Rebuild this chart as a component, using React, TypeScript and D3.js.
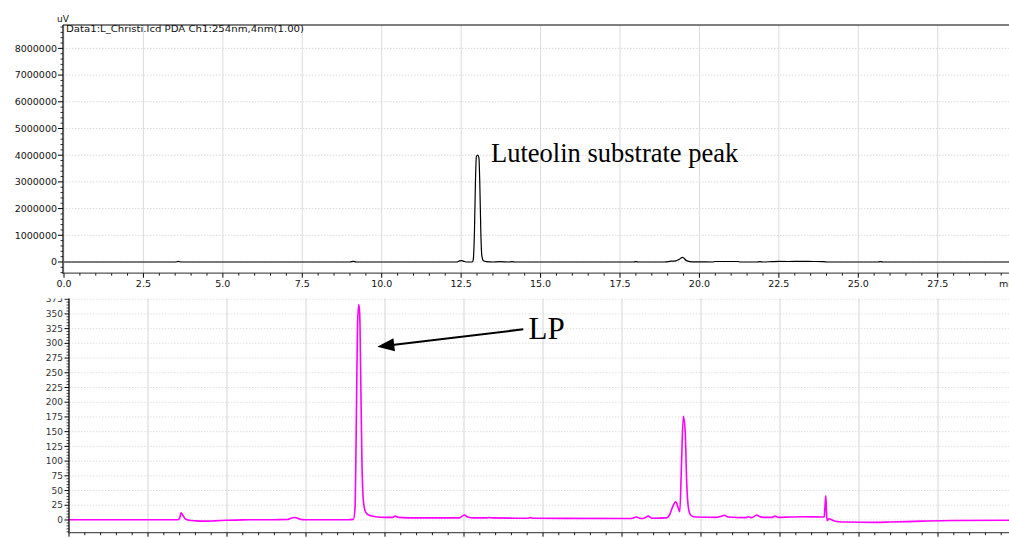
import React from "react";
import * as d3 from "d3";

const W = 1009;
const H = 538;

// Upper trace: luteolin substrate, PDA Ch1 254 nm, signal in uV  [time (min), signal]
const substrateTrace: [number, number][] = [
  [0, 0], [3.5, 0], [3.6, 20000], [3.7, 0], [9.0, 0], [9.1, 25000], [9.2, 0],
  [12.35, 0], [12.45, 40000], [12.52, 50000], [12.6, 20000], [12.7, 0], [12.85, 0],
  [12.88, 80000], [12.92, 1200000], [12.95, 3000000], [12.98, 3950000], [13.02, 4000000],
  [13.06, 3900000], [13.09, 2800000], [13.12, 1100000], [13.15, 250000], [13.2, 50000],
  [13.3, 15000], [13.5, 0], [13.7, 10000], [14.0, 0], [14.1, 10000], [14.2, 0],
  [17.9, 0], [18.0, 15000], [18.1, 0], [18.9, 0], [19.1, 30000], [19.25, 45000],
  [19.35, 90000], [19.47, 170000], [19.58, 60000], [19.7, 15000], [19.85, 5000],
  [20.4, 0], [20.5, 18000], [21.2, 18000], [21.3, 0], [21.8, 0], [21.9, 12000], [22.0, 0],
  [22.3, 15000], [22.5, 20000], [22.8, 18000], [23.2, 22000], [23.6, 18000], [23.9, 15000],
  [24.05, 0], [25.6, 0], [25.7, 10000], [25.8, 0], [29.75, 0],
];

// Lower trace: reaction mixture with product peak LP  [time (min), signal]
const productTrace: [number, number][] = [
  [0, 0.3], [3.45, 0.3], [3.5, 3], [3.55, 12], [3.6, 8], [3.68, 2], [3.8, -0.5],
  [4.0, -1.5], [4.3, -2], [4.6, -1.5], [5.0, -0.5], [5.5, 0.2], [6.5, 0.5], [6.9, 0.8],
  [7.05, 3.5], [7.15, 4.2], [7.3, 1.5], [7.5, 0.5], [8.8, 0.5], [9.0, 1], [9.05, 20],
  [9.1, 200], [9.13, 330], [9.17, 366], [9.2, 350], [9.23, 250], [9.27, 100], [9.32, 30],
  [9.4, 12], [9.5, 8], [9.7, 5.5], [10.0, 4.5], [10.25, 4.5], [10.32, 6.5], [10.42, 4.5],
  [11.0, 3.5], [12.35, 3.5], [12.45, 7], [12.52, 8.5], [12.62, 5], [12.8, 3.5], [13.2, 3.5],
  [13.3, 4.2], [13.4, 3.5], [14.5, 3], [14.6, 4], [14.7, 3], [17.8, 2.5], [17.95, 5],
  [18.1, 2.5], [18.2, 3], [18.33, 6.5], [18.45, 3], [18.9, 3.5], [19.0, 8], [19.1, 22],
  [19.2, 31], [19.27, 22], [19.33, 14], [19.38, 90], [19.44, 176], [19.5, 150], [19.55, 60],
  [19.62, 15], [19.7, 7], [19.85, 5], [20.5, 4.5], [20.65, 6.5], [20.74, 8], [20.85, 5],
  [21.4, 4], [21.5, 5.5], [21.6, 4], [21.7, 6.5], [21.76, 8.5], [21.85, 6], [22.0, 4.5],
  [22.25, 4.5], [22.34, 6.5], [22.45, 4.5], [22.8, 5], [23.2, 5.5], [23.9, 5], [23.92, 20],
  [23.95, 41], [23.97, 15], [23.99, -1], [24.05, 2], [24.15, 0], [24.3, -2.5], [24.6, -3.5],
  [25.5, -4], [26.0, -3.5], [27.0, -2], [28.0, -1], [29.75, -0.5],
];

const timeTicks = [0, 2.5, 5, 7.5, 10, 12.5, 15, 17.5, 20, 22.5, 25, 27.5];
const upperTicks = [0, 1000000, 2000000, 3000000, 4000000, 5000000, 6000000, 7000000, 8000000];
const lowerTicks = [0, 25, 50, 75, 100, 125, 150, 175, 200, 225, 250, 275, 300, 325, 350, 375];

const TICK_FONT = "'DejaVu Sans', Verdana, sans-serif";
const SERIF = "'Liberation Serif', 'Times New Roman', serif";
const fmtTime = d3.format(".1f");

function isMajor(v: number, step: number) {
  return Math.abs(v / step - Math.round(v / step)) < 1e-6;
}

export default function App() {
  // upper panel scales
  const xTop = d3.scaleLinear().domain([0, 29.75]).range([64, 1009.2]);
  const yTop = d3.scaleLinear().domain([-420000, 8876000]).range([273.2, 25]);
  // lower panel scales
  const xBot = d3.scaleLinear().domain([0, 29.75]).range([69, 1009.1]);
  const yBot = d3.scaleLinear().domain([-21.6, 377]).range([532.7, 298]);

  const lineTop = d3
    .line<[number, number]>()
    .x((d) => xTop(d[0]))
    .y((d) => yTop(d[1]))
    .curve(d3.curveMonotoneX);
  const lineBot = d3
    .line<[number, number]>()
    .x((d) => xBot(d[0]))
    .y((d) => yBot(d[1]))
    .curve(d3.curveMonotoneX);

  const minorTime = d3.range(0, 29.76, 0.5).filter((t) => !isMajor(t, 2.5));
  const upperMinor = d3.range(-400000, 8876000, 200000).filter((v) => !isMajor(v, 1000000));
  const lowerMinor = d3.range(-20, 377, 5).filter((v) => !isMajor(v, 25));

  const topAxisY = yTop.range()[0];
  const topFrameY = yTop.range()[1];
  const botAxisY = yBot.range()[0];
  const botTopY = yBot.range()[1];

  // arrow pointing at LP
  const arrowStart: [number, number] = [523.3, 329.3];
  const arrowTip: [number, number] = [377.3, 346.7];
  const dx = arrowTip[0] - arrowStart[0];
  const dy = arrowTip[1] - arrowStart[1];
  const len = Math.hypot(dx, dy);
  const ux = dx / len;
  const uy = dy / len;
  const headLen = 17;
  const headHalf = 6.5;
  const bx = arrowTip[0] - ux * headLen;
  const by = arrowTip[1] - uy * headLen;
  const head = [
    [arrowTip[0], arrowTip[1]],
    [bx - uy * headHalf, by + ux * headHalf],
    [bx + uy * headHalf, by - ux * headHalf],
  ]
    .map((p) => p.join(","))
    .join(" ");

  return (
    <svg
      width={W}
      height={H}
      viewBox={`0 0 ${W} ${H}`}
      style={{ position: "absolute", left: 0, top: 0, background: "#fff" }}
    >
      <defs>
        <clipPath id="upper-clip">
          <rect x={64} y={topFrameY} width={W - 64} height={topAxisY - topFrameY} />
        </clipPath>
        <clipPath id="lower-panel">
          <rect x={0} y={298.5} width={W} height={H - 298.5} />
        </clipPath>
        <clipPath id="lower-plot">
          <rect x={69} y={298.5} width={W - 69} height={botAxisY - 298.5} />
        </clipPath>
      </defs>

      {/* ---------- upper chromatogram ---------- */}
      <g>
        {timeTicks.map((t) => (
          <line key={`tg${t}`} x1={xTop(t)} x2={xTop(t)} y1={topFrameY} y2={topAxisY} stroke="#dcdcdc" strokeWidth={1} />
        ))}
        {upperTicks.map((v) => (
          <line
            key={`ug${v}`}
            x1={63}
            x2={W}
            y1={yTop(v)}
            y2={yTop(v)}
            stroke="#d0d0d0"
            strokeWidth={0.8}
            strokeDasharray="1.5,1.5"
          />
        ))}
        <path d={lineTop(substrateTrace) || ""} fill="none" stroke="#000" strokeWidth={1.2} clipPath="url(#upper-clip)" />

        {/* frame and axes */}
        <line x1={63} x2={W} y1={topFrameY} y2={topFrameY} stroke="#000" strokeWidth={1} />
        <line x1={63} x2={63} y1={topFrameY} y2={topAxisY + 0.5} stroke="#000" strokeWidth={1.2} />
        <line x1={63} x2={W} y1={topAxisY} y2={topAxisY} stroke="#555" strokeWidth={1.2} />

        {upperTicks.map((v) => (
          <g key={`ut${v}`}>
            <line x1={58} x2={63} y1={yTop(v)} y2={yTop(v)} stroke="#000" strokeWidth={1} />
            <text x={57} y={yTop(v)} dy="0.35em" textAnchor="end" fontFamily={TICK_FONT} fontSize={9.5} fill="#111">
              {v}
            </text>
          </g>
        ))}
        {upperMinor.map((v) => (
          <line key={`um${v}`} x1={60.5} x2={63} y1={yTop(v)} y2={yTop(v)} stroke="#000" strokeWidth={0.8} />
        ))}
        {timeTicks.map((t) => (
          <g key={`tt${t}`}>
            <line x1={xTop(t)} x2={xTop(t)} y1={topAxisY} y2={topAxisY + 4.5} stroke="#000" strokeWidth={1} />
            <text x={xTop(t)} y={287} textAnchor="middle" fontFamily={TICK_FONT} fontSize={9.5} fill="#111">
              {fmtTime(t)}
            </text>
          </g>
        ))}
        {minorTime.map((t) => (
          <line key={`tm${t}`} x1={xTop(t)} x2={xTop(t)} y1={topAxisY} y2={topAxisY + 2.5} stroke="#000" strokeWidth={0.9} />
        ))}
        <text x={999} y={287} fontFamily={TICK_FONT} fontSize={9.5} fill="#111">
          min
        </text>
        <text x={57} y={22} fontFamily={TICK_FONT} fontSize={9} fill="#111">
          uV
        </text>
        <text x={66} y={32} fontFamily={TICK_FONT} fontSize={9} fill="#111" textLength={238} lengthAdjust="spacingAndGlyphs">
          Data1:L_Christi.lcd PDA Ch1:254nm,4nm(1.00)
        </text>
        <text x={491} y={161.7} fontFamily={SERIF} fontSize={26.5} fill="#000">
          Luteolin substrate peak
        </text>
      </g>

      {/* ---------- lower chromatogram ---------- */}
      <g clipPath="url(#lower-panel)">
        {timeTicks.map((t) => (
          <line key={`bg${t}`} x1={xBot(t)} x2={xBot(t)} y1={botTopY} y2={botAxisY} stroke="#dcdcdc" strokeWidth={1.2} />
        ))}
        {lowerTicks.map((v) => (
          <line
            key={`lg${v}`}
            x1={69}
            x2={W}
            y1={yBot(v)}
            y2={yBot(v)}
            stroke="#d8d8d8"
            strokeWidth={0.8}
            strokeDasharray="1.5,1.5"
          />
        ))}
        <path d={lineBot(productTrace) || ""} fill="none" stroke="#ff00ff" strokeWidth={1.6} clipPath="url(#lower-plot)" />

        <line x1={69} x2={69} y1={botTopY} y2={botAxisY + 0.5} stroke="#000" strokeWidth={1.2} />
        <line x1={69} x2={W} y1={botAxisY} y2={botAxisY} stroke="#555" strokeWidth={1.2} />

        {lowerTicks.map((v) => (
          <g key={`lt${v}`}>
            <line x1={64.5} x2={69} y1={yBot(v)} y2={yBot(v)} stroke="#000" strokeWidth={1} />
            <text x={63} y={yBot(v)} dy="0.35em" textAnchor="end" fontFamily={TICK_FONT} fontSize={9} fill="#333">
              {v}
            </text>
          </g>
        ))}
        {lowerMinor.map((v) => (
          <line key={`lm${v}`} x1={66.5} x2={69} y1={yBot(v)} y2={yBot(v)} stroke="#000" strokeWidth={0.7} />
        ))}
        {timeTicks.map((t) => (
          <g key={`bt${t}`}>
            <line x1={xBot(t)} x2={xBot(t)} y1={botAxisY} y2={botAxisY + 4} stroke="#000" strokeWidth={1} />
            <text x={xBot(t)} y={545} textAnchor="middle" fontFamily={TICK_FONT} fontSize={9.5} fill="#333">
              {fmtTime(t)}
            </text>
          </g>
        ))}
        {minorTime.map((t) => (
          <line key={`bm${t}`} x1={xBot(t)} x2={xBot(t)} y1={botAxisY} y2={botAxisY + 2.5} stroke="#000" strokeWidth={0.9} />
        ))}

        <line
          x1={arrowStart[0]}
          y1={arrowStart[1]}
          x2={bx + ux * 2}
          y2={by + uy * 2}
          stroke="#000"
          strokeWidth={2}
        />
        <polygon points={head} fill="#000" />
        <text x={528.5} y={339.3} fontFamily={SERIF} fontSize={31} fill="#000">
          LP
        </text>
      </g>
    </svg>
  );
}
